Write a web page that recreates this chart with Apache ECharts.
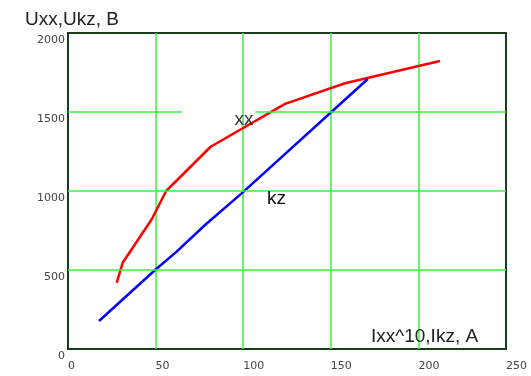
<!DOCTYPE html>
<html>
<head>
<meta charset="utf-8">
<script src="https://cdn.jsdelivr.net/npm/echarts@6/dist/echarts.min.js"></script>
<style>
html,body{margin:0;padding:0;background:#fff;}
#c{width:531px;height:376px;}
</style>
</head>
<body>
<div id="c"></div>
<script>
// Data
const xxI = [27.8, 31.2, 47.8, 56.0, 81.4, 123.9, 158.1, 212.3];
const xxU = [419, 546, 821, 1000, 1280, 1551, 1682, 1823];
const kzI = [17.7, 49.7, 62.0, 78.2, 99.1, 171.1];
const kzU = [177, 500, 616, 785, 985, 1709];
const xTicks = [0, 50, 100, 150, 200, 250];
const yTicks = [0, 500, 1000, 1500, 2000];
const yTitle = 'Uxx,Ukz, B';
const xTitle = 'Ixx^10,Ikz, A';
const xxName = 'xx';
const kzName = 'kz';

const zip = (a, b) => a.map((v, i) => [v, b[i]]);

// horizontal grid segments (1500 line is interrupted in the original)
const hGrid = [
  [[0, 500], [250, 500]],
  [[0, 1000], [250, 1000]],
  [[0, 1500], [65, 1500]],
  [[107, 1500], [250, 1500]]
];

const chart = echarts.init(document.getElementById('c'), null, {renderer: 'canvas'});
const tickFont = {fontFamily: 'DejaVu Sans', fontSize: 11, color: '#444', formatter: v => String(v)};
const titleFont = '19px "Liberation Sans"';
chart.setOption({
  animation: false,
  backgroundColor: '#fff',
  grid: {left: 68, top: 33, right: 25, bottom: 27, show: true, borderColor: '#1c3a1c', borderWidth: 2, backgroundColor: 'transparent'},
  xAxis: {
    type: 'value', min: xTicks[0], max: xTicks[xTicks.length - 1], interval: 50,
    axisLine: {show: false}, axisTick: {show: false},
    splitLine: {show: true, showMinLine: false, showMaxLine: false, lineStyle: {color: '#3cf03c', width: 1.5}},
    axisLabel: Object.assign({align: 'left', margin: 12}, tickFont)
  },
  yAxis: {
    type: 'value', min: yTicks[0], max: yTicks[yTicks.length - 1], interval: 500,
    axisLine: {show: false}, axisTick: {show: false},
    splitLine: {show: false},
    axisLabel: Object.assign({margin: 3, verticalAlign: 'top', padding: [2, 0, 0, 0]}, tickFont)
  },
  series: [
    {
      type: 'line', data: [], silent: true,
      markLine: {
        silent: true, symbol: 'none', label: {show: false},
        lineStyle: {color: '#3cf03c', width: 1.5, type: 'solid'},
        data: hGrid.map(s => [{coord: s[0]}, {coord: s[1]}])
      }
    },
    {
      name: xxName, type: 'line', data: zip(xxI, xxU), symbol: 'none', z: 3,
      lineStyle: {color: '#ff0000', width: 2.5}
    },
    {
      name: kzName, type: 'line', data: zip(kzI, kzU), symbol: 'none', z: 3,
      lineStyle: {color: '#0000ff', width: 2.5}
    }
  ]
});

// place curve labels via the axes
const p1 = chart.convertToPixel({gridIndex: 0}, [100.5, 1449]);
const p2 = chart.convertToPixel({gridIndex: 0}, [119, 949]);
chart.setOption({
  graphic: [
    {type: 'text', left: 25, top: 10, z: 10, style: {text: yTitle, font: titleFont, fill: '#222'}},
    {type: 'text', left: 371, top: 327, z: 10, style: {text: xTitle, font: titleFont, fill: '#222'}},
    {type: 'text', x: p1[0], y: p1[1], z: 10, style: {text: xxName, font: titleFont, fill: '#333', align: 'center', verticalAlign: 'middle'}},
    {type: 'text', x: p2[0], y: p2[1], z: 10, style: {text: kzName, font: titleFont, fill: '#111', align: 'center', verticalAlign: 'middle'}}
  ]
});
</script>
</body>
</html>
